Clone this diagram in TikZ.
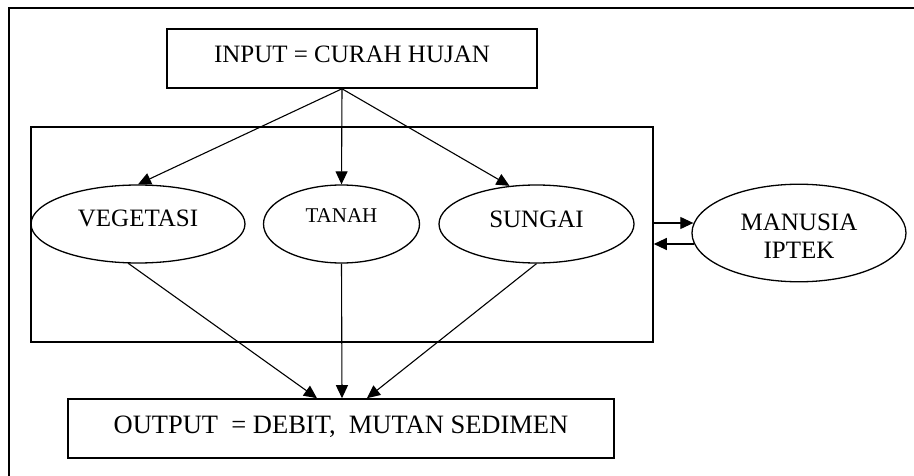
\documentclass[tikz,border=0pt]{standalone}
\usepackage{fontspec}
\setmainfont{Liberation Serif}
\usetikzlibrary{arrows.meta,shapes.geometric,calc}
\begin{document}
\begin{tikzpicture}[x=1pt,y=-1pt,
  box/.style={draw,line width=1.6pt,rectangle,inner sep=0pt},
  oval/.style={draw,line width=1.3pt,ellipse,inner sep=0pt},
  conn/.style={line width=1.1pt,-{Triangle[length=13pt,width=12pt]}},
  font=\fontsize{25}{28}\selectfont]
\useasboundingbox (0,0) rectangle (914,476);
\draw[line width=1.6pt] (9,8) rectangle (940,500);
\node[box,minimum width=370pt,minimum height=59pt,text height=18pt,text depth=9pt] (in) at (352,58.5) {INPUT = CURAH HUJAN};
\node[box,minimum width=622pt,minimum height=215pt] (sys) at (342,234.5) {};
\node[oval,minimum width=214pt,minimum height=78pt,text height=16pt,text depth=10pt] (veg) at (138,224) {VEGETASI};
\node[oval,minimum width=156pt,minimum height=78pt,text height=14pt,text depth=16pt,font=\fontsize{21}{25}\selectfont] (tan) at (341.5,224) {TANAH};
\node[oval,minimum width=195pt,minimum height=78pt,text height=17pt,text depth=9pt] (sun) at (536.5,224) {SUNGAI};
\node[oval,minimum width=214pt,minimum height=96pt,align=center,text height=60pt,text depth=9pt] (man) at (799,233) {MANUSIA\\IPTEK};
\node[box,minimum width=546pt,minimum height=59pt,text height=18pt,text depth=9pt,font=\fontsize{26.5}{30}\selectfont] (out) at (341,428.5) {OUTPUT\ \ = DEBIT,\ \ MUTAN SEDIMEN};
\coordinate (src) at ($(in.south)+(-10,0)$);
\coordinate (sunin) at ($(sun.north)+(-27,1.5)$);
\draw[conn] (src) -- (veg.north);
\draw[conn] (src) -- (tan.north);
\draw[conn] (src) -- (sunin);
\coordinate (vs) at ($(veg.south)+(-10,-0.5)$);
\coordinate (o1) at ($(out.north)+(-24,0)$);
\coordinate (o2) at ($(out.north)+(1,0)$);
\coordinate (o3) at ($(out.north)+(26,0)$);
\draw[conn] (vs) -- (o1);
\draw[conn] (tan.south) -- (o2);
\draw[conn] (sun.south) -- (o3);
\coordinate (r1) at ($(sys.east)+(0,-11.5)$);
\coordinate (m1) at ($(man.west)+(2,-10)$);
\coordinate (m2) at ($(man.west)+(3,11)$);
\coordinate (r2) at ($(sys.east)+(0,9.5)$);
\draw[conn] (r1) -- (m1);
\draw[conn] (m2) -- (r2);
\end{tikzpicture}
\end{document}
